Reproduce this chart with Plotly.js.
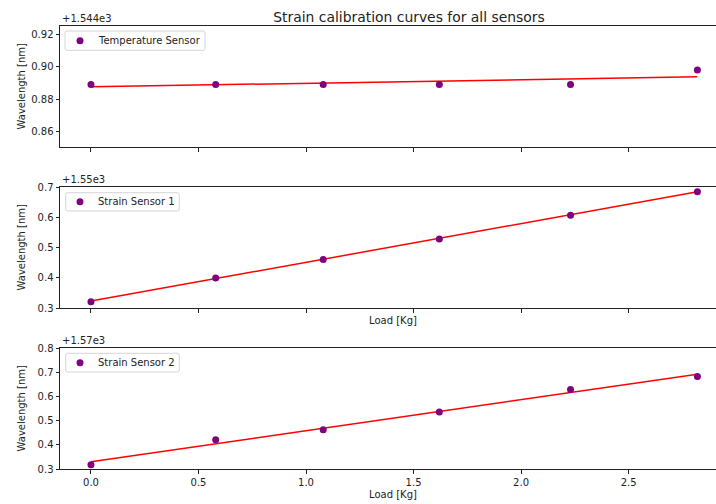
<!DOCTYPE html>
<html>
<head>
<meta charset="utf-8">
<script src="https://cdn.plot.ly/plotly-3.0.1.min.js"></script>
<style>html,body{margin:0;padding:0;overflow:hidden;background:#fff;}#chart{width:740px;height:504px;}</style>
</head>
<body>
<div id="chart"></div>
<script>
// Data
const loads = [0.0, 0.58, 1.08, 1.62, 2.23, 2.82];
const tempSensor = [1544.889, 1544.889, 1544.889, 1544.889, 1544.889, 1544.898];
const strain1 = [1550.321, 1550.399, 1550.460, 1550.528, 1550.607, 1550.684];
const strain2 = [1570.318, 1570.421, 1570.462, 1570.536, 1570.629, 1570.682];
// Fit lines (endpoints)
const fitX = [0.0, 2.82];
const tempFit = [1544.8876, 1544.8938];
const strain1Fit = [1550.323, 1550.684];
const strain2Fit = [1570.330, 1570.692];
// Axis offsets and tick labels
const tempBase = 1544, s1Base = 1550, s2Base = 1570;
const tempTicks = ["0.86", "0.88", "0.90", "0.92"];
const s1Ticks = ["0.3", "0.4", "0.5", "0.6", "0.7"];
const s2Ticks = ["0.3", "0.4", "0.5", "0.6", "0.7", "0.8"];
const seriesNames = ["Temperature Sensor", "Strain Sensor 1", "Strain Sensor 2"];

const purple = "#800080", red = "#ff0000";
const font = "DejaVu Sans, sans-serif";
const xr = [-0.144, 2.953];

function scatter(y, name, xa, ya) {
  return {x: loads, y: y, name: name, mode: "markers", type: "scatter",
    marker: {color: purple, size: 7}, xaxis: xa, yaxis: ya, showlegend: false};
}
function fit(y, xa, ya) {
  return {x: fitX, y: y, mode: "lines", type: "scatter", line: {color: red, width: 1.5},
    xaxis: xa, yaxis: ya, showlegend: false, hoverinfo: "skip"};
}

const traces = [
  fit(tempFit, "x3", "y3"), scatter(tempSensor, seriesNames[0], "x3", "y3"),
  fit(strain1Fit, "x2", "y2"), scatter(strain1, seriesNames[1], "x2", "y2"),
  fit(strain2Fit, "x", "y"), scatter(strain2, seriesNames[2], "x", "y")
];

function xaxis(anchor, labels) {
  return {anchor: anchor, domain: [0, 1], range: xr, dtick: 0.5, tick0: 0, tickformat: ".1f",
    showticklabels: labels, ticks: "outside", ticklen: 3.5, tickwidth: 1, tickcolor: "#222",
    showline: true, linecolor: "#222", linewidth: 1, mirror: true, showgrid: false, zeroline: false,
    tickfont: {family: font, size: 10, color: "#222"}};
}
function yaxis(anchor, domain, range, base, ticks) {
  return {anchor: anchor, domain: domain, range: range,
    tickmode: "array", tickvals: ticks.map(t => base + parseFloat(t)), ticktext: ticks,
    ticks: "outside", ticklen: 3.5, tickwidth: 1, tickcolor: "#222",
    showline: true, linecolor: "#222", linewidth: 1, mirror: true, showgrid: false, zeroline: false,
    tickfont: {family: font, size: 10, color: "#222"}};
}

const L = 60, T = 26, W = 666, H = 443;
const px = v => (v - L) / W;
const py = v => (T + H - v) / H;
const d1 = [py(147), 1], d2 = [py(308), py(187)], d3 = [0, py(348)];

const ann = [];
const shapes = [];
function yTitle(domain) {
  ann.push({text: "Wavelength [nm]", xref: "paper", yref: "paper", x: px(21), xanchor: "center",
    y: (domain[0] + domain[1]) / 2, yanchor: "middle", textangle: -90, showarrow: false,
    font: {family: font, size: 10, color: "#222"}});
}
function offsetText(txt, domain) {
  ann.push({text: txt, xref: "paper", yref: "paper", x: 0, xanchor: "left", y: domain[1],
    yanchor: "bottom", showarrow: false, font: {family: font, size: 10, color: "#222"}});
}
// hand-drawn legend boxes (matplotlib-like)
function legendBox(name, x0, y0, x1, y1) {
  const r = 2;
  const path = "M " + px(x0 + r) + " " + py(y0) +
    " L " + px(x1 - r) + " " + py(y0) + " Q " + px(x1) + " " + py(y0) + " " + px(x1) + " " + py(y0 + r) +
    " L " + px(x1) + " " + py(y1 - r) + " Q " + px(x1) + " " + py(y1) + " " + px(x1 - r) + " " + py(y1) +
    " L " + px(x0 + r) + " " + py(y1) + " Q " + px(x0) + " " + py(y1) + " " + px(x0) + " " + py(y1 - r) +
    " L " + px(x0) + " " + py(y0 + r) + " Q " + px(x0) + " " + py(y0) + " " + px(x0 + r) + " " + py(y0) + " Z";
  shapes.push({type: "path", xref: "paper", yref: "paper", path: path,
    fillcolor: "rgba(255,255,255,0.8)", line: {color: "#d4d4d4", width: 1}});
  const cy = (y0 + y1) / 2;
  shapes.push({type: "circle", xref: "paper", yref: "paper", x0: px(76.5), x1: px(83.5),
    y0: py(cy + 3.5), y1: py(cy - 3.5), fillcolor: purple, line: {width: 0}});
  ann.push({text: name, xref: "paper", yref: "paper", x: px(96), xanchor: "left", y: py(cy),
    yanchor: "middle", showarrow: false, font: {family: font, size: 10, color: "#222"}});
}
yTitle(d1); yTitle(d2); yTitle(d3);
offsetText("+1.544e3", d1); offsetText("+1.55e3", d2); offsetText("+1.57e3", d3);
legendBox(seriesNames[0], 65, 31, 205, 50.3);
legendBox(seriesNames[1], 65.7, 192.7, 179.3, 211);
legendBox(seriesNames[2], 65.7, 353.3, 179.3, 372);
ann.push({text: "Load [Kg]", xref: "paper", yref: "paper", x: 0.5, xanchor: "center", y: d2[0],
  yanchor: "top", yshift: -5, showarrow: false, font: {family: font, size: 10, color: "#222"}});
ann.push({text: "Load [Kg]", xref: "paper", yref: "paper", x: 0.5, xanchor: "center", y: d3[0],
  yanchor: "top", yshift: -18, showarrow: false, font: {family: font, size: 10, color: "#222"}});

const layout = {
  width: 740, height: 504,
  margin: {l: L, r: 740 - L - W, t: T, b: 504 - T - H},
  paper_bgcolor: "#fff", plot_bgcolor: "#fff",
  title: {text: "Strain calibration curves for all sensors", x: 409 / 740, xanchor: "center",
    y: 1 - 16.7 / 504, yanchor: "middle", font: {family: font, size: 13.9, color: "#222"}},
  xaxis: xaxis("y", true), xaxis2: xaxis("y2", false), xaxis3: xaxis("y3", false),
  yaxis: yaxis("x", d3, [1570.3, 1570.8], s2Base, s2Ticks),
  yaxis2: yaxis("x2", d2, [1550.3, 1550.7], s1Base, s1Ticks),
  yaxis3: yaxis("x3", d1, [1544.8502, 1544.9254], tempBase, tempTicks),
  annotations: ann,
  shapes: shapes,
  showlegend: false
};

Plotly.newPlot("chart", traces, layout, {staticPlot: true, displayModeBar: false});
</script>
</body>
</html>
